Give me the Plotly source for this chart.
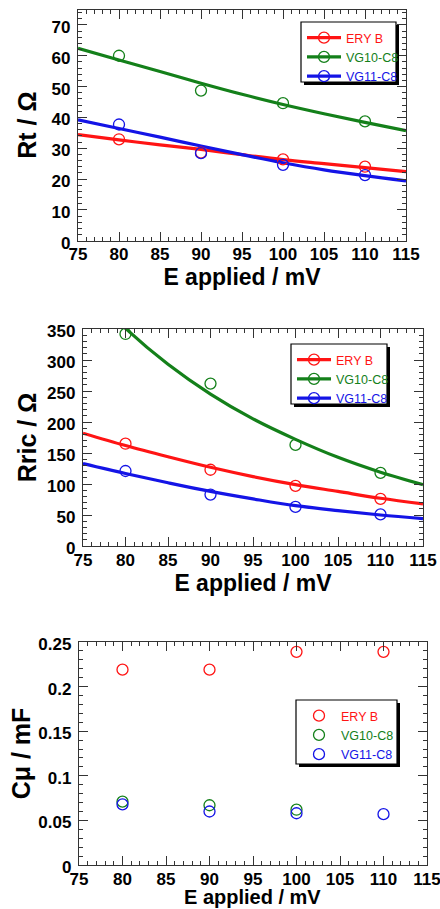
import plotly.graph_objects as go

# ---------------- data ----------------
series_names = ["ERY B", "VG10-C8", "VG11-C8"]
E_points = [80, 90, 100, 110]
E_fit = [75, 80, 85, 90, 95, 100, 105, 110, 115]

# Panel 1: Rt / Ohm
Rt_ery = [32.9, 28.6, 26.4, 24.0]
Rt_vg10 = [60.0, 48.7, 44.6, 38.7]
Rt_vg11 = [37.7, 28.4, 24.6, 21.3]
Rt_fit_ery = [34.4, 32.7, 31.1, 29.6, 27.9, 26.3, 25.0, 23.7, 22.4]
Rt_fit_vg10 = [62.4, 58.6, 54.9, 51.1, 47.5, 44.2, 41.2, 38.4, 35.7]
Rt_fit_vg11 = [39.2, 36.4, 33.6, 30.7, 27.9, 25.3, 23.0, 21.1, 19.4]

# Panel 2: Rric / Ohm
Rric_ery = [165, 123, 97, 76]
Rric_vg10 = [342, 262, 163, 118]
Rric_vg11 = [121, 83, 63, 51]
Rric_fit_ery = [182, 162, 144, 127, 112, 99, 88, 77, 68]
Rric_fit_vg10 = [420, 351, 293, 245, 205, 172, 143, 119, 99]
Rric_fit_vg11 = [133, 117, 102, 88, 76, 65, 57, 50, 44]

# Panel 3: C mu / mF
E_cmu_vg10 = [80, 90, 100]
Cmu_ery = [0.219, 0.219, 0.239, 0.239]
Cmu_vg10 = [0.071, 0.067, 0.062]
Cmu_vg11 = [0.068, 0.060, 0.058, 0.057]

x_ticks = [75, 80, 85, 90, 95, 100, 105, 110, 115]

# ---------------- style ----------------
RED = "#ff1414"
GREEN = "#14801a"
BLUE = "#1414e6"
LINE_W = 3.2
MSIZE = 11
FONT = "Liberation Sans, Arial, sans-serif"

W, H = 440, 909


def px(x0, x1):
    return [x0 / W, x1 / W]


def py(top, bottom):
    return [1 - bottom / H, 1 - top / H]


fig = go.Figure()


def add_panel(xa, ya, legend, fits, pts, with_lines=True, xs_list=None):
    colors = [RED, GREEN, BLUE]
    if with_lines:
        for f, c in zip(fits, colors):
            fig.add_trace(go.Scatter(
                x=E_fit, y=f, mode="lines", line=dict(color=c, width=LINE_W, shape="spline"),
                xaxis=xa, yaxis=ya, showlegend=False, hoverinfo="skip"))
    for i, (p, c) in enumerate(zip(pts, colors)):
        xs = xs_list[i] if xs_list else E_points
        fig.add_trace(go.Scatter(
            x=xs, y=p, mode="markers",
            marker=dict(symbol="circle-open", size=MSIZE, color=c, line=dict(width=1.3, color=c)),
            xaxis=xa, yaxis=ya, showlegend=False, name=series_names[i]))
    # legend entries
    for name, c in zip(series_names, colors):
        fig.add_trace(go.Scatter(
            x=[None], y=[None],
            mode="lines+markers" if with_lines else "markers",
            line=dict(color=c, width=LINE_W),
            marker=dict(symbol="circle-open", size=MSIZE, color=c, line=dict(width=1.3, color=c)),
            name=f'<span style="color:{c}">{name}</span>',
            xaxis=xa, yaxis=ya, legend=legend, showlegend=True))


add_panel("x", "y", "legend",
          [Rt_fit_ery, Rt_fit_vg10, Rt_fit_vg11], [Rt_ery, Rt_vg10, Rt_vg11])
add_panel("x2", "y2", "legend2",
          [Rric_fit_ery, Rric_fit_vg10, Rric_fit_vg11], [Rric_ery, Rric_vg10, Rric_vg11])
add_panel("x3", "y3", "legend3", None, [Cmu_ery, Cmu_vg10, Cmu_vg11], with_lines=False,
          xs_list=[E_points, E_cmu_vg10, E_points])

tickfont = dict(family=FONT, size=17, color="black", weight="bold")
xtitlefont = dict(family=FONT, size=23, color="black", weight="bold")
ytitlefont = dict(family=FONT, size=25, color="black", weight="bold")


def xaxis(domain, anchor, title, standoff):
    return dict(domain=domain, anchor=anchor, range=[75, 115], tickvals=x_ticks,
                ticks="inside", ticklen=9, tickwidth=1, tickcolor="#333",
                minor=dict(dtick=1, ticks="inside", ticklen=4, tickwidth=1, tickcolor="#333"),
                mirror="allticks", showline=True, linecolor="#333", linewidth=1.3,
                showgrid=False, zeroline=False, tickfont=tickfont, automargin=False,
                ticklabeloverflow="allow", ticklabelstandoff=-2,
                title=dict(text=title, font=xtitlefont, standoff=standoff))


def yaxis(domain, anchor, rng, dtick, mdtick, title, standoff):
    return dict(domain=domain, anchor=anchor, range=rng, dtick=dtick, tick0=0,
                ticks="inside", ticklen=9, tickwidth=1, tickcolor="#333",
                minor=dict(dtick=mdtick, tick0=0, ticks="inside", ticklen=4, tickwidth=1, tickcolor="#333"),
                mirror="allticks", showline=True, linecolor="#333", linewidth=1.3,
                showgrid=False, zeroline=False, tickfont=tickfont, automargin=False,
                ticklabeloverflow="allow", ticklabelstandoff=3, ticklabelshift=2,
                title=dict(text=title, font=ytitlefont, standoff=standoff))


fig.update_layout(
    width=W, height=H, margin=dict(l=0, r=0, t=0, b=0),
    paper_bgcolor="white", plot_bgcolor="white",
    font=dict(family=FONT),
    xaxis=xaxis(px(78, 406), "y", "E applied / mV", 0),
    yaxis=yaxis(py(9.5, 240.7), "x", [0, 75], 10, 2, "Rt / Ω", 7),
    xaxis2=xaxis(px(83, 423), "y2", "E applied / mV", 0),
    yaxis2=yaxis(py(329, 546), "x2", [0, 350], 50, 10, "Rric / Ω", 3),
    xaxis3=xaxis(px(79, 427), "y3", "", 0),
    yaxis3=yaxis(py(642, 865), "x3", [0, 0.25], 0.05, 0.01, "Cμ / mF", 0),
)

# bottom panel x title (kept fully inside the window)
fig.add_annotation(text="E applied / mV", xref="paper", yref="paper",
                   x=(79 + 427) / 2 / W, y=0, xanchor="center", yanchor="bottom",
                   showarrow=False, font=dict(xtitlefont, size=20), borderpad=0)

legend_common = dict(bgcolor="rgba(0,0,0,0)", borderwidth=0, xanchor="left", yanchor="top",
                     font=dict(family=FONT, size=12.5), tracegroupgap=0, itemwidth=34)
boxes = [(301, 22, 396, 82), (291, 344, 387, 404), (296, 700, 397, 764)]
fig.update_layout(
    legend=dict(legend_common, x=(boxes[0][0] + 1) / W, y=1 - (boxes[0][1] + 1) / H),
    legend2=dict(legend_common, x=(boxes[1][0] + 1) / W, y=1 - (boxes[1][1] + 1) / H),
    legend3=dict(legend_common, x=(boxes[2][0] + 1) / W, y=1 - (boxes[2][1] + 1) / H),
)

shapes = []
for (x0, y0, x1, y1) in boxes:
    shapes.append(dict(type="rect", xref="paper", yref="paper", layer="above",
                       x0=(x0 + 3) / W, x1=(x1 + 3) / W,
                       y0=1 - (y1 + 3) / H, y1=1 - (y0 + 3) / H,
                       fillcolor="black", line=dict(width=0)))
    shapes.append(dict(type="rect", xref="paper", yref="paper", layer="above",
                       x0=x0 / W, x1=x1 / W,
                       y0=1 - y1 / H, y1=1 - y0 / H,
                       fillcolor="white", line=dict(width=1.2, color="black")))
fig.update_layout(shapes=shapes)

# remove the default page margin so the figure starts at the window's top-left corner
fig.write_html("out.html", config={"displayModeBar": False},
               post_script="document.body.style.margin='0';document.body.style.overflow='hidden';")
